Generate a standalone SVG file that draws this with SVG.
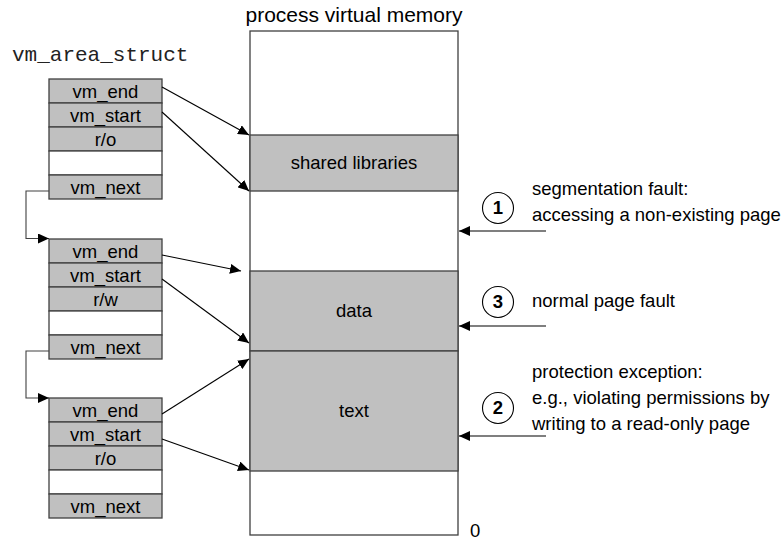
<svg xmlns="http://www.w3.org/2000/svg" width="783" height="540" viewBox="0 0 783 540">
<defs>
<marker id="ah" markerUnits="userSpaceOnUse" markerWidth="12" markerHeight="10" refX="11" refY="5" orient="auto">
<path d="M0,0 L11,5 L0,10 Z" fill="#000"/>
</marker>
<style>
text{font-family:"Liberation Sans",Arial,sans-serif;font-size:18.5px;fill:#000}
.c{text-anchor:middle}
.g{fill:#c0c0c0;stroke:#404040;stroke-width:1.3}
.w{fill:#fff;stroke:#404040;stroke-width:1.3}
.ln{fill:none;stroke:#000;stroke-width:1.1}
.nx{fill:none;stroke:#404040;stroke-width:1.1}
.mono{font-family:"Liberation Mono","Courier New",monospace;font-size:21px;fill:#222}
</style>
</defs>
<rect width="783" height="540" fill="#fff"/>
<text class="mono" x="12" y="61">vm_area_struct</text>
<g id="struct1">
<rect class="g" x="49" y="79" width="113" height="24"/><text class="c" x="105.5" y="97.5">vm_end</text>
<rect class="g" x="49" y="103" width="113" height="24"/><text class="c" x="105.5" y="121.5">vm_start</text>
<rect class="g" x="49" y="127" width="113" height="24"/><text class="c" x="105.5" y="145.5">r/o</text>
<rect class="w" x="49" y="151" width="113" height="24"/>
<rect class="g" x="49" y="175" width="113" height="24"/><text class="c" x="105.5" y="193.5">vm_next</text>
</g>
<g id="struct2">
<rect class="g" x="49" y="239" width="113" height="24"/><text class="c" x="105.5" y="257.5">vm_end</text>
<rect class="g" x="49" y="263" width="113" height="24"/><text class="c" x="105.5" y="281.5">vm_start</text>
<rect class="g" x="49" y="287" width="113" height="24"/><text class="c" x="105.5" y="305.5">r/w</text>
<rect class="w" x="49" y="311" width="113" height="24"/>
<rect class="g" x="49" y="335" width="113" height="24"/><text class="c" x="105.5" y="353.5">vm_next</text>
</g>
<g id="struct3">
<rect class="g" x="49" y="398" width="113" height="24"/><text class="c" x="105.5" y="416.5">vm_end</text>
<rect class="g" x="49" y="422" width="113" height="24"/><text class="c" x="105.5" y="440.5">vm_start</text>
<rect class="g" x="49" y="446" width="113" height="24"/><text class="c" x="105.5" y="464.5">r/o</text>
<rect class="w" x="49" y="470" width="113" height="24"/>
<rect class="g" x="49" y="494" width="113" height="24"/><text class="c" x="105.5" y="512.5">vm_next</text>
</g>
<g id="memory">
<text class="c" x="354" y="22" style="font-size:21px">process virtual memory</text>
<rect class="w" x="250" y="31" width="208" height="504"/>
<rect class="g" x="250" y="135" width="208" height="56"/><text class="c" x="354" y="169">shared libraries</text>
<rect class="g" x="250" y="271" width="208" height="80"/><text class="c" x="354" y="317">data</text>
<rect class="g" x="250" y="351" width="208" height="120"/><text class="c" x="354" y="417">text</text>
<text x="470" y="537">0</text>
</g>
<g id="fault1">
<circle cx="498" cy="208" r="15.5" fill="#fff" stroke="#000" stroke-width="1.1"/>
<text class="c" x="498" y="214" style="font-weight:bold">1</text>
<text x="532" y="195">segmentation fault:</text>
<text x="532" y="221">accessing a non-existing page</text>
</g>
<g id="fault3">
<circle cx="498" cy="302" r="15.5" fill="#fff" stroke="#000" stroke-width="1.1"/>
<text class="c" x="498" y="308" style="font-weight:bold">3</text>
<text x="532" y="307">normal page fault</text>
</g>
<g id="fault2">
<circle cx="498" cy="408" r="15.5" fill="#fff" stroke="#000" stroke-width="1.1"/>
<text class="c" x="498" y="414" style="font-weight:bold">2</text>
<text x="532" y="378">protection exception:</text>
<text x="532" y="404">e.g., violating permissions by</text>
<text x="532" y="430">writing to a read-only page</text>
</g>
<g id="connectors">
<line class="ln" x1="162" y1="87" x2="249" y2="135" marker-end="url(#ah)"/>
<line class="ln" x1="162" y1="112" x2="249" y2="191" marker-end="url(#ah)"/>
<line class="ln" x1="162" y1="255" x2="241" y2="271" marker-end="url(#ah)"/>
<line class="ln" x1="162" y1="279" x2="249" y2="343" marker-end="url(#ah)"/>
<line class="ln" x1="162" y1="414" x2="249" y2="359" marker-end="url(#ah)"/>
<line class="ln" x1="162" y1="439" x2="249" y2="470" marker-end="url(#ah)"/>
<polyline class="nx" points="49,191 26,191 26,238.5 49,238.5" marker-end="url(#ah)"/>
<polyline class="nx" points="49,351 26,351 26,398 49,398" marker-end="url(#ah)"/>
<line class="ln" x1="546" y1="231" x2="459" y2="231" marker-end="url(#ah)"/>
<line class="ln" x1="546" y1="326" x2="459" y2="326" marker-end="url(#ah)"/>
<line class="ln" x1="546" y1="436" x2="459" y2="436" marker-end="url(#ah)"/>
</g>
</svg>
